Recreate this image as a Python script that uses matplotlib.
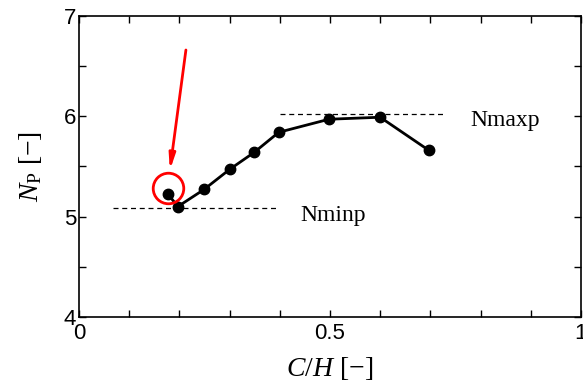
import matplotlib
matplotlib.use('Agg')
import matplotlib.pyplot as plt
from matplotlib.ticker import MultipleLocator

serif = 'Liberation Serif'
plt.rcParams['font.family'] = 'Liberation Sans'
plt.rcParams['mathtext.fontset'] = 'custom'
plt.rcParams['mathtext.rm'] = serif
plt.rcParams['mathtext.it'] = serif + ':italic'

# Data.
ch = [0.177, 0.197, 0.249, 0.30, 0.349, 0.398, 0.498, 0.60, 0.697]
n_p = [5.225, 5.10, 5.27, 5.47, 5.64, 5.84, 5.97, 5.99, 5.66]
n_min, n_min_x = 5.09, [0.068, 0.396]
n_max, n_max_x = 6.02, [0.40, 0.73]
mark_pt = (0.177, 5.285)
arrow_from, arrow_to = (0.213, 6.66), (0.181, 5.46)

fig = plt.figure(figsize=(5.83, 3.87), dpi=100)
ax = fig.add_axes([0.1355, 0.181, 0.861, 0.778])

ax.plot(ch, n_p, '-o', c='k', lw=2, ms=7.5)
ax.plot(n_min_x, [n_min, n_min], '--', c='k', lw=0.9, dashes=(4, 3))
ax.plot(n_max_x, [n_max, n_max], '--', c='k', lw=0.9, dashes=(4, 3))

# Red circle and arrow highlighting the first point.
ax.plot(mark_pt[0], mark_pt[1], 'o', ms=22, mfc='none', mec='red', mew=2)
ax.annotate('', xy=arrow_to, xytext=arrow_from,
            arrowprops=dict(arrowstyle='-|>,head_length=0.9,head_width=0.18',
                            color='red', lw=2, shrinkA=0, shrinkB=0))

ax.text(0.44, 5.01, 'Nminp', family=serif, fontsize=17, va='center')
ax.text(0.779, 5.96, 'Nmaxp', family=serif, fontsize=17, va='center')

ax.set_xlim(0, 1)
ax.set_ylim(4, 7)
ax.xaxis.set_minor_locator(MultipleLocator(0.1))
ax.yaxis.set_major_locator(MultipleLocator(1))
ax.yaxis.set_minor_locator(MultipleLocator(0.5))
ax.set_xticks([0, 0.5, 1])
ax.set_xticklabels(['0', '0.5', '1'])
ax.tick_params(which='both', direction='in', top=True, right=True,
               length=5, width=1, labelsize=16)
ax.tick_params(axis='y', pad=2)
ax.tick_params(axis='x', pad=4)
for s in ax.spines.values():
    s.set_linewidth(1.2)

ax.set_xlabel(r'$C/H$ [$-$]', family=serif, fontsize=20, labelpad=8)
ax.set_ylabel(r'$N_{\mathrm{P}}$ [$-$]', family=serif, fontsize=20, labelpad=14)

fig.savefig('out.png', dpi=100)
plt.close()
